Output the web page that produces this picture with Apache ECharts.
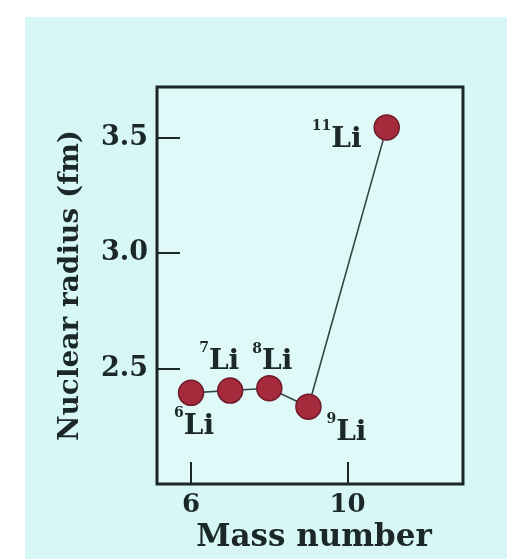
<!DOCTYPE html>
<html><head><meta charset="utf-8">
<script src="https://cdn.jsdelivr.net/npm/echarts@6/dist/echarts.min.js"></script>
<style>html,body{margin:0;padding:0;background:#fff}#c{width:514px;height:559px}</style>
</head><body><div id="c"></div>
<script>
const isotopes = ['6', '7', '8', '9', '11'];
const massNumbers = [6, 7, 8, 9, 11];
const radii = [2.395, 2.405, 2.415, 2.335, 3.545];
const xTicks = [6, 10];
const yTicks = [2.5, 3.0, 3.5];
const labelOffsets = [[3, 34], [-11, -29], [3, -26], [38, 26], [-50, 12]];

const serif = 'DejaVu Serif';
const ink = '#1c2828';

const data = massNumbers.map((m, i) => ({
  value: [m, radii[i]],
  label: {
    show: true,
    position: 'inside',
    offset: labelOffsets[i],
    formatter: '{s|' + isotopes[i] + '}{b|Li}'
  }
}));

const chart = echarts.init(document.getElementById('c'));
chart.setOption({
  backgroundColor: '#ffffff',
  animation: false,
  graphic: [{
    type: 'rect', z: -10, silent: true,
    shape: { x: 25, y: 17, width: 482, height: 542 },
    style: { fill: '#d7f6f6' }
  }],
  grid: {
    left: 157, top: 87, right: 51, bottom: 75,
    show: true, backgroundColor: '#dff9f9',
    borderColor: ink, borderWidth: 3
  },
  xAxis: {
    type: 'value', min: 5.13, max: 12.95,
    axisLine: { show: false },
    splitLine: { show: false },
    axisTick: { show: true, inside: true, length: 22, customValues: xTicks, lineStyle: { color: ink, width: 2 } },
    axisLabel: { customValues: xTicks, margin: 8, color: ink, fontFamily: serif, fontWeight: 'bold', fontSize: 26 },
    name: 'Mass number', nameLocation: 'middle', nameGap: 37, nameTextStyle: {
      color: ink, fontFamily: serif, fontWeight: 'bold', fontSize: 31, padding: [0, 0, 0, 8] }
  },
  yAxis: {
    type: 'value', min: 2.0, max: 3.72,
    axisLine: { show: false },
    splitLine: { show: false },
    axisTick: { show: true, inside: true, length: 23, customValues: yTicks, lineStyle: { color: ink, width: 2 } },
    axisLabel: { customValues: yTicks, margin: 9, color: ink, fontFamily: serif, fontWeight: 'bold', fontSize: 27,
      formatter: v => v.toFixed(1) },
    name: 'Nuclear radius (fm)', nameLocation: 'middle', nameGap: 72, nameRotate: 90,
    nameTextStyle: { color: ink, fontFamily: serif, fontWeight: 'bold', fontSize: 28 }
  },
  series: [{
    type: 'line',
    data: data,
    symbol: 'circle', symbolSize: 25,
    lineStyle: { color: '#364444', width: 1.6 },
    itemStyle: { color: '#a42a3c', borderColor: '#6e1a28', borderWidth: 1.5 },
    label: {
      color: ink, fontFamily: serif, fontWeight: 'bold',
      rich: {
        s: { fontSize: 14, lineHeight: 16, verticalAlign: 'top', fontFamily: serif, fontWeight: 'bold', color: ink },
        b: { fontSize: 28, lineHeight: 40, letterSpacing: 1, fontFamily: serif, fontWeight: 'bold', color: ink }
      }
    }
  }]
});
</script></body></html>
